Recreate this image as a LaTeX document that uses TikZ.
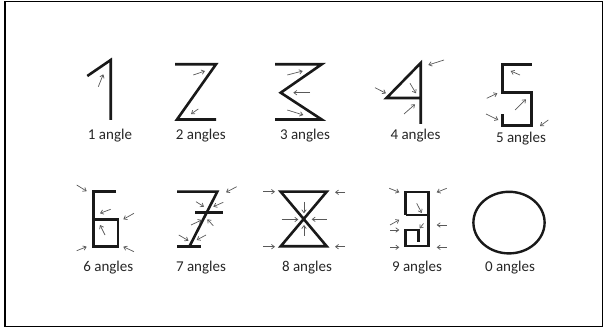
\documentclass[tikz,border=0pt]{standalone}
\usepackage{fontspec}
\setmainfont{Carlito}
\usetikzlibrary{arrows.meta}
\begin{document}
\begin{tikzpicture}[x=1pt,y=-1pt,
  digit/.style={line width=2.6pt,line join=miter,black!90},
  pointer/.style={line width=0.7pt,black!65,-{Straight Barb[length=3pt,width=4.5pt]}},
  lbl/.style={font=\fontsize{15}{18}\selectfont,text=black!85,inner sep=0pt}]
\useasboundingbox (0,0) rectangle (604,328);
\draw[line width=1.4pt] (5,1.8) rectangle (602.5,326.3);
% 1
\draw[digit] (87.3,76) -- (110.7,60) -- (110.7,120);
\draw[pointer] (98.3,86.7) -- (103.3,74.3);
\node[lbl] (l1) at (110,136) {1 angle};
% 2
\draw[digit] (175,64.3) -- (216,64.3) -- (177,119.5) -- (216,119.5);
\draw[pointer] (193.3,75) -- (205,71);
\draw[pointer] (198.3,109) -- (191,114);
\node[lbl] (l2) at (200.8,136) {2 angles};
% 3
\draw[digit] (275,64.3) -- (321.7,64.3) -- (280.7,92.7) -- (321.7,119.5) -- (275,119.5);
\draw[pointer] (287.3,75) -- (302.7,71);
\draw[pointer] (310,92.7) -- (293.3,92.7);
\draw[pointer] (287.3,110) -- (303.3,115);
\node[lbl] (l3) at (305,136) {3 angles};
% 4
\draw[digit] (420.7,124) -- (420.7,63) -- (386.5,98) -- (420.7,98);
\draw[pointer] (444,60) -- (428.3,65);
\draw[pointer] (375,87.7) -- (386,93.3);
\draw[pointer] (410,83.3) -- (416,93.3);
\draw[pointer] (404,114) -- (415,104.3);
\node[lbl] (l4) at (415.5,136) {4 angles};
% 5
\draw[digit] (531.7,64.7) -- (502.7,64.7) -- (502.7,92.5) -- (531.7,92.5) -- (531.7,125.5) -- (502.7,125.5) -- (502.7,114.5);
\draw[pointer] (520,75) -- (510.7,71);
\draw[pointer] (486.7,98.3) -- (497.3,93.3);
\draw[pointer] (515,110) -- (526,99.3);
\draw[pointer] (486,114) -- (498.3,120);
\draw[pointer] (548.3,120) -- (540,126);
\node[lbl] (l5) at (521,138.3) {5 angles};
% 6
\draw[digit] (116,191.7) -- (93.3,191.7) -- (93.3,246.3) -- (118,246.3) -- (118,219.7) -- (93.3,219.7);
\draw[pointer] (76.7,185) -- (86.7,191.2);
\draw[pointer] (110.7,209.3) -- (100,213.3);
\draw[pointer] (134,213.3) -- (123.3,219.3);
\draw[pointer] (105,235) -- (100,225);
\draw[pointer] (76.7,250.7) -- (86.7,246.7);
\draw[pointer] (134,251.7) -- (123.3,246.7);
\node[lbl] (l6) at (108.3,268) {6 angles};
% 7
\draw[digit] (177,191.7) -- (217.3,191.7) -- (189.3,246.7);
\draw[digit] (177,246.7) -- (200.8,246.7);
\draw[digit] (195,212.7) -- (223.3,212.7);
\draw[pointer] (236.7,186.7) -- (226,192.3);
\draw[pointer] (196,201.7) -- (204,206.7);
\draw[pointer] (223.3,202.3) -- (213.3,206.7);
\draw[pointer] (191,225) -- (201.7,220);
\draw[pointer] (213.3,225.7) -- (207.3,219.3);
\draw[pointer] (178.8,235) -- (188.5,240.7);
\draw[pointer] (206,235) -- (196.7,240);
\node[lbl] (l7) at (201,268) {7 angles};
% 8
\draw[digit] (280.7,191.7) -- (326.7,191.7) -- (280.7,246.3) -- (326.7,246.3) -- cycle;
\draw[pointer] (263.3,191.7) -- (275,191.7);
\draw[pointer] (281.7,219.5) -- (298.3,219.5);
\draw[pointer] (263.3,246.7) -- (275,246.7);
\draw[pointer] (345,192.3) -- (335,192.3);
\draw[pointer] (326.7,219.3) -- (311.7,219.3);
\draw[pointer] (345,246.7) -- (335,246.7);
\draw[pointer] (304,202) -- (304,213.3);
\draw[pointer] (304,236) -- (304,225);
\node[lbl] (l8) at (307,268) {8 angles};
% 9
\draw[digit] (405.7,215) -- (405.7,192) -- (428.5,192) -- (428.5,246) -- (405.7,246) -- (405.7,230) -- (418.3,230) -- (418.3,241.7);
\draw[digit] (405.7,215) -- (428.5,215);
\draw[pointer] (389.3,188.3) -- (399.3,192.3);
\draw[pointer] (416.7,203.3) -- (421.7,213);
\draw[pointer] (390,225) -- (399.3,219.8);
\draw[pointer] (390,230) -- (399.3,230);
\draw[pointer] (390,247.3) -- (399.3,247.3);
\draw[pointer] (446.7,188.3) -- (436.7,192.3);
\draw[pointer] (446.7,225) -- (436.7,225);
\draw[pointer] (446.7,247.3) -- (436.7,247.3);
\draw[pointer] (423.5,223.5) -- (419.5,228.5);
\node[lbl] (l9) at (417,268) {9 angles};
% 0
\draw[line width=2.4pt,black!90] (509,222.6) ellipse [x radius=35.6, y radius=30.8];
\node[lbl] (l0) at (510,268) {0 angles};
\end{tikzpicture}
\end{document}
